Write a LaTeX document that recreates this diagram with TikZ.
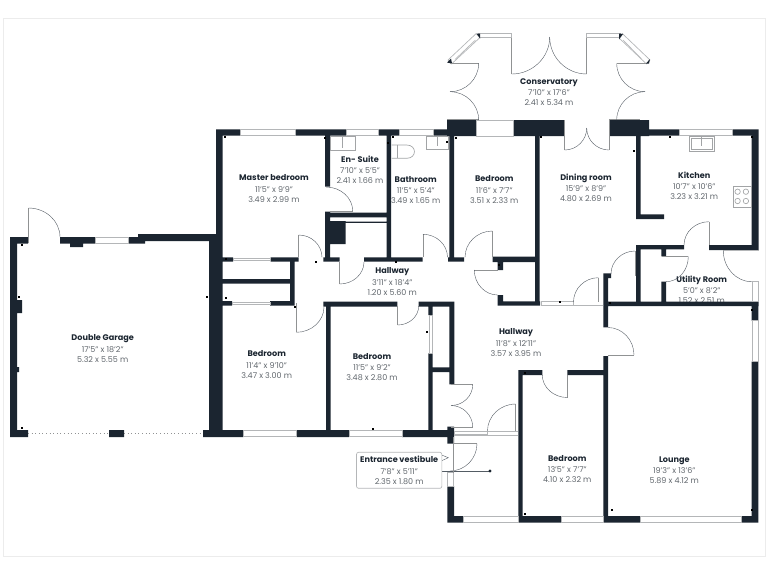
\documentclass[tikz,border=0pt]{standalone}
\usepackage{fontspec}
\setmainfont{Poppins}
\usetikzlibrary{calc}
\definecolor{wallcol}{HTML}{1B2530}
\definecolor{dimcol}{HTML}{60666C}
\definecolor{glasscol}{HTML}{B4B6B8}
\definecolor{framecol}{HTML}{ECECEC}
\tikzset{
wall/.style={fill=wallcol},
glass/.style={draw=glasscol, fill=white, line width=.5pt},
jamb/.style={draw=glasscol!80!black, line width=.7pt},
swing/.style={draw=wallcol!75, line width=.3pt},
fixture/.style={draw=glasscol!90!black, line width=.5pt},
roomlabel/.style={align=center, text=dimcol, font=\fontsize{6}{7.5}\selectfont, inner sep=0pt},
tagbox/.style={draw=glasscol, rounded corners=1.5pt, line width=.5pt, fill=white, minimum width=64pt, minimum height=27pt},
tick/.style={fill=black}
}
% quarter swing of a door: start, corner, end
\newcommand{\doorswing}[3]{\draw[swing] (#1) .. controls ($(#1)!.55!(#2)$) and ($(#3)!.55!(#2)$) .. (#3);}
\newcommand{\roomname}[1]{{\bfseries\color{wallcol}\fontsize{6.1}{7.5}\selectfont #1}\\[.9pt]}
\begin{document}
\begin{tikzpicture}[x=.75pt,y=-.75pt]
\useasboundingbox (0,0) rectangle (768,576);
\draw[framecol, line width=.7pt] (3.5,18.5) rectangle (765,556);
% room labels sit under the walls
\node[roomlabel] (conservatory) at (549,92) {\roomname{Conservatory}7'10" x 17'6"\\2.41 x 5.34 m};
\node[roomlabel] (master) at (274,188.5) {\roomname{Master bedroom}11'5" x 9'9"\\3.49 x 2.99 m};
\node[roomlabel] (ensuite) at (360,170) {\roomname{En- Suite}7'10" x 5'5"\\2.41 x 1.66 m};
\node[roomlabel] (bathroom) at (415.7,190) {\roomname{Bathroom}11'5" x 5'4"\\3.49 x 1.65 m};
\node[roomlabel] (bedroomtop) at (494.3,189.5) {\roomname{Bedroom}11'6" x 7'7"\\3.51 x 2.33 m};
\node[roomlabel] (dining) at (586,187.5) {\roomname{Dining room}15'9" x 8'9"\\4.80 x 2.69 m};
\node[roomlabel] (kitchen) at (694.3,186) {\roomname{Kitchen}10'7" x 10'6"\\3.23 x 3.21 m};
\node[roomlabel] (utility) at (701.7,290) {\roomname{Utility Room}5'0" x 8'2"\\1.52 x 2.51 m};
\node[roomlabel] (hallupper) at (392.3,281.5) {\roomname{Hallway}3'11" x 18'4"\\1.20 x 5.60 m};
\node[roomlabel] (garage) at (102.7,348.5) {\roomname{Double Garage}17'5" x 18'2"\\5.32 x 5.55 m};
\node[roomlabel] (bedroomleft) at (266.7,364.5) {\roomname{Bedroom}11'4" x 9'10"\\3.47 x 3.00 m};
\node[roomlabel] (bedroommid) at (372,366.7) {\roomname{Bedroom}11'5" x 9'2"\\3.48 x 2.80 m};
\node[roomlabel] (halllower) at (516,342.5) {\roomname{Hallway}11'8" x 12'11"\\3.57 x 3.95 m};
\node[roomlabel] (bedroomlow) at (567.3,469) {\roomname{Bedroom}13'5" x 7'7"\\4.10 x 2.32 m};
\node[roomlabel] (lounge) at (674.3,470) {\roomname{Lounge}19'3" x 13'6"\\5.89 x 4.12 m};
% walls
\fill[wall]
  (10,237) rectangle (28,243.5) (60,237) rectangle (95,243.5) (70,243) rectangle (83,247)
  (128,237) rectangle (145,243.5) (138,234) rectangle (222.7,241)
  (10,237) rectangle (17,437) (17,300) rectangle (22,313) (17,367) rectangle (19,372)
  (10,430) rectangle (28,437) (109,430) rectangle (124,437) (203,430) rectangle (243.3,437)
  (209,234) rectangle (222.7,437) (216,129.3) rectangle (222.7,234)
  (216,129.3) rectangle (240,135.7) (295,129.3) rectangle (346,135.7)
  (378,129.3) rectangle (399,135.7) (433,129.3) rectangle (450,135.7)
  (447,120) rectangle (476,136) (513.5,120) rectangle (564,136) (609.5,120) rectangle (649,136)
  (649,129.3) rectangle (679,135.7) (732,129.3) rectangle (758.7,135.7)
  (751.7,129.3) rectangle (758.7,250) (709,245) rectangle (758.7,250) (636,245) rectangle (684,249.3)
  (636,135) rectangle (640.7,219) (636,214.3) rectangle (664,219) (636,245) rectangle (640.7,302)
  (535,135) rectangle (539.5,305.7) (492.7,256.7) rectangle (539,262) (497.7,261) rectangle (503,270)
  (497.7,295) rectangle (503,305) (497.7,301.3) rectangle (540,305.7)
  (449.3,135) rectangle (454,261) (448,257.3) rectangle (464,261.7)
  (325,135) rectangle (330,186.7) (325,211.7) rectangle (330,261.7) (325,221) rectangle (345.7,244)
  (330,212.7) rectangle (387,217.3) (345.7,221.5) rectangle (387,222.8)
  (386.7,135) rectangle (391,261.7)
  (222,257.3) rectangle (233,261.7) (270.7,257.3) rectangle (298.7,261.7) (323.3,257.3) rectangle (339.7,261.7)
  (364,257.3) rectangle (422.7,261.7)
  (290,257.3) rectangle (294.7,305.7) (222,279) rectangle (290,283.7)
  (222,301) rectangle (232,305.7) (270,301) rectangle (294.7,305.7)
  (323.3,301.7) rectangle (397.3,306.7) (418.7,301.7) rectangle (454.3,306.7)
  (326,302) rectangle (330.7,437) (428.3,305) rectangle (432.7,315) (428.3,353.3) rectangle (432.7,431)
  (449.3,302) rectangle (454.3,384.3) (432.7,367.3) rectangle (449.3,372)
  (296.7,430) rectangle (349,437) (402,430) rectangle (454,437) (447.3,426.7) rectangle (454,443.7)
  (447.3,486) rectangle (454,522.7) (447.3,516) rectangle (463,522.7)
  (518.3,370) rectangle (522.7,522.7) (518.3,370) rectangle (542.3,375) (567.3,370) rectangle (608,375)
  (518.3,516) rectangle (561.7,522.7)
  (603.3,273.3) rectangle (608,327.3) (603.3,273.3) rectangle (611,278)
  (603.3,301.7) rectangle (758.7,306) (661.3,249.3) rectangle (666,256.3) (661.3,281.7) rectangle (666,302)
  (751.7,301.7) rectangle (758.3,320.7) (751.7,361.7) rectangle (758.3,522.7)
  (603.3,356) rectangle (608,522.7) (603.3,516) rectangle (640.7,522.7) (741,516) rectangle (758.3,522.7);
% windows
\draw[glass] (95,237) rectangle (128,243);
\draw[glass] (240,129.5) rectangle (295,135.5);
\draw[glass] (346,129.5) rectangle (378,135.5);
\draw[glass] (399,129.5) rectangle (433,135.5);
\draw[glass] (476,120.5) rectangle (513.5,136);
\draw[glass] (679,129.5) rectangle (732,135.5);
\draw[glass] (751.9,320.7) rectangle (758.3,361.7);
\draw[glass] (243.3,430.5) rectangle (296.7,436.5);
\draw[glass] (349,430.5) rectangle (402,436.5);
\draw[glass] (429,315) rectangle (432,353.3);
\draw[glass] (233,258.7) rectangle (270.7,260.3);
\draw[glass] (232,302.4) rectangle (270,304);
\draw[glass] (541,301.8) rectangle (573,305);
\draw[glass] (454,431) rectangle (487,434.5);
\draw[glass] (447.5,472.7) rectangle (453.3,486);
\draw[glass] (463,516.5) rectangle (518.3,522);
\draw[glass] (561.7,516.5) rectangle (603.3,522);
\draw[glass] (640.7,516.5) rectangle (741,522);
\draw[glass] (751.9,281.7) rectangle (758.5,301.7);
\draw[glass] (723.3,250) -- (758.7,250);
\draw[glass] (573,305.3) -- (603.3,305.3);
\draw[glass] (487,431) -- (518.3,431);
\draw[glass] (454,435) -- (518.3,435);
\draw[jamb, dotted] (28,433.5) -- (109,433.5);
\draw[jamb, dotted] (124,433.5) -- (203,433.5);
% conservatory bays
\draw[glass] (478,33.3) rectangle (511.7,37.7);
\draw[glass] (586.7,33.3) rectangle (620.7,37.7);
\draw[glass] (476,33.7) -- (448,60) -- (451.5,64) -- (480,37.5) -- cycle;
\draw[glass] (455,59.5) -- (475.5,40);
\draw[glass] (622.5,33.7) -- (650,60) -- (646.5,64) -- (618.5,37.5) -- cycle;
\draw[glass] (642,59.5) -- (623,40);
\fill[wall] (476.5,33.5) -- (480,33.5) -- (480,38.5) -- cycle;
\fill[wall] (447,62.5) -- (451,58.5) -- (452,63.5) -- cycle;
\fill[wall] (619,33.5) -- (623,34) -- (619,39.5) -- cycle;
\fill[wall] (646,63.5) -- (650,59) -- (649,63.5) -- cycle;
\draw[jamb] (511.7,37.7) -- (511.7,74);
\draw[jamb] (586.7,37.7) -- (586.7,74);
\draw[jamb] (450,63.3) -- (478.7,63.3);
\draw[jamb] (616.7,63.3) -- (645.7,63.3);
\draw[jamb] (564.7,120) -- (564.7,150);
\draw[jamb] (609,120) -- (609,150);
\draw[jamb] (447,119.4) -- (478.7,119.4);
\draw[jamb] (609,119.4) -- (640,119.4);
\doorswing{511.7,74}{549.7,74}{549.7,37}
\doorswing{586.7,74}{549.7,74}{549.7,37}
\doorswing{478.7,63.3}{478.7,91.7}{450,91.7}
\doorswing{478.7,120}{478.7,91.7}{450,91.7}
\doorswing{616.7,63.3}{616.7,91.7}{645,91.7}
\doorswing{616.7,120}{616.7,91.7}{645,91.7}
\doorswing{564.7,150}{586.7,150}{586.7,128}
\doorswing{609,150}{586.7,150}{586.7,128}
% doors
\draw[jamb] (28.5,243) -- (28.5,208);
\doorswing{28.5,208}{60,208}{60,237}
\draw[jamb] (330,211) -- (352.7,211);
\doorswing{352.7,211}{352.7,187}{326,187}
\draw[jamb] (298.7,235) -- (298.7,257.3);
\doorswing{298.7,235}{322,235}{322,257.3}
\draw[jamb] (339.7,262) -- (339.7,284);
\doorswing{339.7,284}{364,284}{364,262}
\draw[jamb] (423,234.3) -- (423,257.3);
\doorswing{423,234.3}{447.5,234.3}{447.5,257.3}
\draw[jamb] (492.3,231) -- (492.3,257);
\doorswing{492.3,231}{465,231}{465,257.3}
\draw[jamb] (474.3,270) -- (497.7,270);
\doorswing{474.3,270}{474.3,295}{497.7,295}
\draw[jamb] (598.3,277.7) -- (598.3,302);
\doorswing{598.3,277.7}{573.5,277.7}{573.5,302}
\draw[jamb] (635,251) -- (635,276);
\doorswing{635,251}{611,251}{611,274}
\draw[jamb] (709,245) -- (709,221.7);
\doorswing{709,221.7}{684,221.7}{684,245}
\draw[jamb] (662,256.7) -- (688.3,256.7);
\doorswing{688.3,256.7}{688.3,281.7}{666,281.7}
\doorswing{723.3,250.7}{723.3,281.7}{751.7,281.7}
\draw[jamb] (608,355) -- (634,355);
\doorswing{634,355}{634,327.5}{608,327.5}
\draw[jamb] (567.3,375) -- (567.3,397.5);
\doorswing{567.3,397.5}{542.3,397.5}{542.3,375}
\draw[jamb] (296.3,303) -- (296.3,332.3);
\doorswing{296.3,332.3}{324,332.3}{324,307}
\draw[jamb] (397.7,306) -- (397.7,325);
\doorswing{397.7,325}{418.7,325}{418.7,306}
% double door at the foot of the passage
\draw[jamb] (451,384.7) -- (472.7,384.7);
\draw[jamb] (451,427) -- (472.7,427);
\doorswing{472.7,384.7}{472.7,405.5}{451,405.5}
\doorswing{472.7,427}{472.7,405.5}{451,405.5}
\draw[jamb] (515.7,404) -- (515.7,431);
\doorswing{515.7,404}{487.5,404}{487.5,431}
\draw[jamb] (454,443.7) -- (477,443.7);
\doorswing{477,443.7}{477,471}{450,471}
% fittings
\draw[fixture] (330,136.5) rectangle (355,150.7) (342.5,136.5) -- (342.5,148);
\draw[fixture] (426,136.5) rectangle (448.5,149) (437,136.5) -- (437,146);
\draw[fixture] (689,136) rectangle (714.3,151) (691,138) rectangle (712.3,149) (701.5,136) -- (701.5,146);
\draw[fixture] (391.5,145) -- (406.7,145) .. controls (417,145) and (417,158.3) .. (406.7,158.3) -- (391.5,158.3);
\draw[fixture] (397,145) -- (397,158.3);
\draw[fixture] (733.3,186.7) rectangle (751.7,207.3);
\foreach \hobx/\hoby in {737.6/191.7,745.9/191.7,737.6/201,745.9/201}
  \draw[fixture] (\hobx,\hoby) circle (2.7);
% small marks at the room corners
\foreach \markx/\marky in {22/245,19/297,207/297,22/428,225/137,325/138,388/143,393/137,447/142,456/138,541/137,634/151,670/137,752/137,610/303,752/310,752/510,612/510,525/373,525/514,373/429,427/332,226/259,226/298,295/307,316/262,396/262,560/302,499/265}
  \fill[tick] (\markx-.6,\marky-.6) rectangle (\markx+.6,\marky+.6);
% tag of the entrance vestibule
\draw[swing] (442.3,471) -- (490,471);
\fill[wall] (490,471) circle (1.7);
\draw[jamb] (453.3,437) -- (453.3,472.7);
\draw[swing] (441.7,455) -- (448.3,457.7) -- (441.7,460.7);
\node[tagbox, roomlabel, inner sep=0pt] (vestibule) at (399.2,470.3) {\roomname{Entrance vestibule}7'8" x 5'11"\\2.35 x 1.80 m};
\end{tikzpicture}
\end{document}
